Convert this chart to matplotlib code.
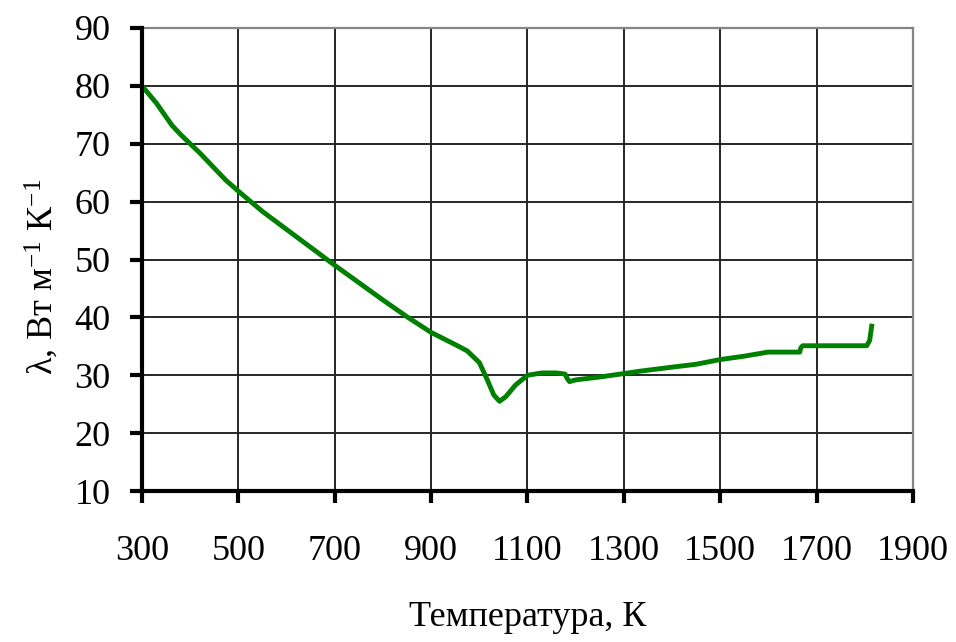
import matplotlib
matplotlib.use("Agg")
import matplotlib.pyplot as plt

# Data
temperature = [300, 330, 362, 380, 420, 474, 500, 550, 600, 650, 700, 750, 800, 850, 900, 950, 975,
               1000, 1015, 1030, 1042, 1055, 1075, 1100, 1130, 1160, 1178, 1182, 1187, 1200, 1250,
               1301, 1333, 1400, 1450, 1499, 1550, 1599, 1630, 1665, 1667, 1671, 1720, 1770, 1804,
               1810, 1815]
conductivity = [80.0, 77.0, 73.2, 71.6, 68.4, 63.7, 61.8, 58.3, 55.2, 52.1, 49.0, 46.0, 43.0, 40.1,
                37.4, 35.3, 34.2, 32.2, 29.5, 26.6, 25.5, 26.3, 28.3, 30.0, 30.4, 30.4, 30.2,
                29.5, 28.9, 29.2, 29.7, 30.3, 30.7, 31.4, 31.9, 32.7, 33.3, 34.0, 34.0, 34.0,
                34.7, 35.1, 35.1, 35.1, 35.1, 36.0, 38.9]

x_ticks = [300, 500, 700, 900, 1100, 1300, 1500, 1700, 1900]
y_ticks = [10, 20, 30, 40, 50, 60, 70, 80, 90]

plt.rcParams['font.family'] = ['Liberation Serif', 'DejaVu Serif']
plt.rcParams['mathtext.fontset'] = 'custom'
plt.rcParams['mathtext.rm'] = 'Liberation Serif'
plt.rcParams['mathtext.it'] = 'Liberation Serif:italic'

fig = plt.figure(figsize=(9.56, 6.42), dpi=100)
ax = fig.add_axes([142 / 956, 1 - 491 / 642, (913 - 142) / 956, (491 - 28) / 642])

ax.plot(temperature, conductivity, color='#008000', lw=3.5, solid_joinstyle='round',
        solid_capstyle='butt', zorder=3)

ax.set_xlim(300, 1900)
ax.set_ylim(10, 90)
ax.set_xticks(x_ticks)
ax.set_yticks(y_ticks)
ax.grid(True, color='#262626', lw=1.4, zorder=1)
ax.set_axisbelow(True)

for side in ['left', 'bottom']:
    ax.spines[side].set_linewidth(3.0)
    ax.spines[side].set_color('black')
    ax.spines[side].set_zorder(4)
for side in ['top', 'right']:
    ax.spines[side].set_linewidth(1.6)
    ax.spines[side].set_color('#858585')

ax.tick_params(axis='both', which='major', labelsize=26, direction='out', length=8.6,
               width=3.0, color='black')
ax.tick_params(axis='x', pad=23)
ax.tick_params(axis='y', pad=14)

ax.set_xlabel('Температура, К', fontsize=26, labelpad=24)
ax.set_ylabel(r'λ, Вт м$^{\mathrm{-1}}$ К$^{\mathrm{-1}}$', fontsize=26)
ax.yaxis.set_label_coords(-0.106, 0.462)

fig.savefig('out.png', dpi=100)
